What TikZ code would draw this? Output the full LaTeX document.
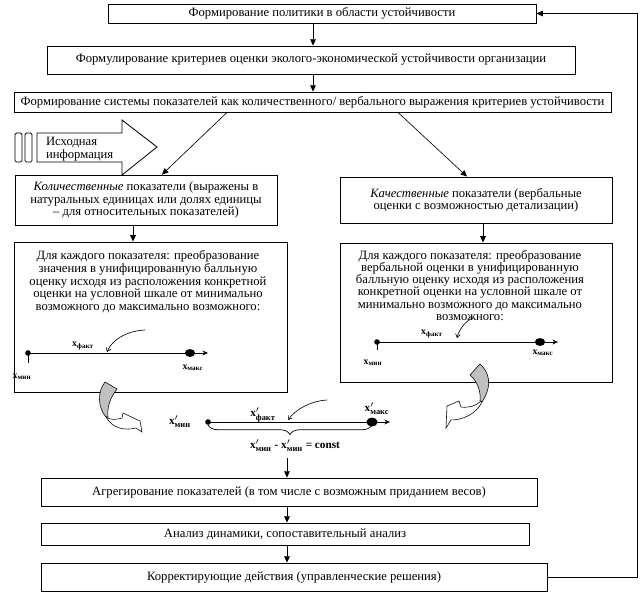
\documentclass[tikz,border=0pt]{standalone}
\usepackage{fontspec}
\setmainfont{Liberation Serif}
\usepackage{amsmath}
\usepackage{tikz}
\usetikzlibrary{arrows.meta, positioning, decorations.pathreplacing}
\definecolor{RibbonGray}{HTML}{C0C0C0}

\begin{document}
\begin{tikzpicture}[x=0.025cm, y=-0.025cm, line width=0.6pt,
    every node/.style={font=\fontsize{9}{9.5}\selectfont},
    box/.style={draw, inner sep=0pt, align=center},
    arr/.style={-{Triangle[length=4.5pt, width=4pt]}},
    scl/.style={-{Stealth[length=4pt, width=3.5pt]}},
    curvearr/.style={-{Straight Barb[length=2.5pt, width=3.5pt]}, line width=0.45pt},
    lbl/.style={font=\fontsize{7}{8}\selectfont\bfseries, inner sep=0pt},
    cnt/.style={font=\fontsize{8}{9}\selectfont\bfseries, inner sep=0pt}]
  \useasboundingbox (0,0) rectangle (640,594);

  % Top chain
  \node[box, minimum width=10.7cm, minimum height=0.475cm] (pol) at (322,13.5)
    {Формирование политики в области устойчивости};
  \node[box, minimum width=13.2cm, minimum height=0.7cm] (crit) at (311,60)
    {Формулирование критериев оценки эколого-экономической устойчивости организации};
  \node[box, minimum width=14.925cm, minimum height=0.5cm] (sys) at (312.5,102)
    {Формирование системы показателей как количественного/ вербального выражения критериев устойчивости};

  % Arrow columns
  \coordinate (tx) at (313,0);
  \coordinate (lx) at (133,0);
  \coordinate (rx) at (483,0);
  \coordinate (bx) at (287,0);
  \draw[arr] (pol.south -| tx) -- (crit.north -| tx);
  \draw[arr] (crit.south -| tx) -- (sys.north -| tx);

  % Input arrow
  \draw[rounded corners=1pt] (15,133) rectangle (22,162);
  \draw[rounded corners=1pt] (25,133) rectangle (32,162);
  \draw (37,133) -- (122,133) -- (122,120) -- (157,147) -- (122,175)
    -- (122,162) -- (37,162) -- cycle;
  \node[anchor=west, align=left] (inp) at (41,149) {Исходная\\информация};

  % Quantitative / qualitative
  \node[box, minimum width=6.55cm, minimum height=1.25cm,
    font=\fontsize{9}{8.6}\selectfont] (qnt) at (146,200)
    {\textit{Количественные} показатели (выражены в\\натуральных единицах или долях единицы\\– для относительных показателей)};
  \node[box, minimum width=6.8cm, minimum height=1.15cm,
    font=\fontsize{9}{8.6}\selectfont] (qlt) at (476,200)
    {\textit{Качественные} показатели (вербальные\\оценки с возможностью детализации)};
  \coordinate (dl) at (227,0);
  \coordinate (dlq) at (162,0);
  \coordinate (dr) at (398,0);
  \coordinate (drq) at (467,0);
  \draw[arr, line width=0.45pt] (sys.south -| dl) -- (qnt.north -| dlq);
  \draw[arr, line width=0.45pt] (sys.south -| dr) -- (qlt.north -| drq);

  % Conversion boxes
  \node[box, minimum width=6.825cm, minimum height=3.75cm] (cvq) at (150.5,317) {};
  \node[anchor=north, align=center, font=\fontsize{9}{9.2}\selectfont] (cvqtxt) at (148,245)
    {Для каждого показателя: преобразование\\значения в унифицированную балльную\\оценку исходя из расположения конкретной\\оценки на условной шкале от минимально\\возможного до максимально возможного:};
  \node[box, minimum width=6.8cm, minimum height=3.475cm] (cvl) at (476,312.5) {};
  \node[anchor=north, align=center, font=\fontsize{9}{8.7}\selectfont] (cvltxt) at (470,245)
    {Для каждого показателя: преобразование\\вербальной оценки в унифицированную\\балльную оценку исходя из расположения\\конкретной оценки на условной шкале от\\минимально возможного до максимально\\возможного:};
  \draw[arr] (qnt.south -| lx) -- (cvq.north -| lx);
  \draw[arr] (qlt.south -| rx) -- (cvl.north -| rx);

  % Left scale
  \coordinate (mn1) at (28,353);
  \coordinate (mx1) at (190,353);
  \coordinate (en1) at (208,353);
  \draw[scl] (mn1) -- (en1);
  \draw (mn1) -- ++(0,10);
  \fill (mn1) circle (2pt);
  \fill (mx1) ellipse (3.6pt and 2.8pt);
  \node[lbl] (xf1) at (83,346) {x\textsubscript{факт}};
  \node[lbl] (xmin1) at (22,377) {x\textsubscript{мин}};
  \node[lbl] (xmax1) at (193,368) {x\textsubscript{макс}};
  \draw[curvearr] (145,330) .. controls (126,331) and (112,340) .. (107,352);

  % Right scale
  \coordinate (mn2) at (377,342);
  \coordinate (mx2) at (540,342);
  \coordinate (en2) at (558,342);
  \draw[scl] (mn2) -- (en2);
  \draw (mn2) -- ++(0,8);
  \fill (mn2) circle (2pt);
  \fill (mx2) ellipse (3.6pt and 2.8pt);
  \node[lbl] (xf2) at (432,334) {x\textsubscript{факт}};
  \node[lbl] (xmin2) at (373,363) {x\textsubscript{мин}};
  \node[lbl] (xmax2) at (543,353) {x\textsubscript{макс}};
  \draw[curvearr] (473,318) .. controls (465,321) and (459,330) .. (457,338);

  % Ribbon arrows
  \filldraw[fill=RibbonGray, line width=0.4pt] (105,382) -- (117,389)
    .. controls (110,398) and (107,407) .. (108,417) -- (106,417)
    .. controls (98,408) and (97,392) .. (105,382) -- cycle;
  \filldraw[fill=white, line width=0.4pt] (106,417)
    .. controls (110,420) and (116,420) .. (122,418) -- (123,413) -- (140,421)
    -- (142,432) -- (136,428) .. controls (124,431) and (112,428) .. (106,417) -- cycle;
  \filldraw[fill=RibbonGray, line width=0.4pt] (470,375) -- (480,364)
    .. controls (489,372) and (493,385) .. (482,402) -- (480,401)
    .. controls (481,392) and (478,382) .. (470,375) -- cycle;
  \filldraw[fill=white, line width=0.4pt] (481,401)
    .. controls (476,406) and (469,408) .. (461,407) -- (459,401) -- (447,406)
    -- (446,428) -- (451,420) .. controls (463,420) and (476,414) .. (482,402) -- cycle;

  % Unified scale
  \coordinate (mn0) at (208,422);
  \coordinate (mx0) at (372,422);
  \coordinate (en0) at (390,422);
  \draw[scl] (mn0) -- (en0);
  \fill (mn0) circle (2pt);
  \fill (mx0) ellipse (4pt and 3.2pt);
  \node[cnt] (xmin0) at (180,422) {x$'_{\text{мин}}$};
  \node[cnt] (xf0) at (263,415) {x$'_{\text{факт}}$};
  \node[cnt] (xmax0) at (377,409) {x$'_{\text{макс}}$};
  \draw[curvearr] (327,400) .. controls (310,401) and (295,410) .. (288,420);
  \draw[decorate, decoration={brace, mirror, amplitude=7pt, raise=2pt},
    line width=0.5pt] (mn0) -- (mx0);
  \node[cnt] (frm) at (295,446) {x$'_{\text{мин}}$ - x$'_{\text{мин}}$ = const};

  % Bottom chain
  \node[box, minimum width=12.4cm, minimum height=0.7cm] (agg) at (289,492)
    {Агрегирование показателей (в том числе с возможным приданием весов)};
  \node[box, minimum width=12.2cm, minimum height=0.55cm] (dyn) at (285,534)
    {Анализ динамики, сопоставительный анализ};
  \node[box, minimum width=12.65cm, minimum height=0.7cm] (adj) at (294,577)
    {Корректирующие действия (управленческие решения)};
  \draw[arr] (frm.south -| bx) ++(0,6) -- (agg.north -| bx);
  \draw[arr] (agg.south -| bx) -- (dyn.north -| bx);
  \draw[arr] (dyn.south -| bx) -- (adj.north -| bx);

  % Feedback loop
  \coordinate (fb) at (637,0);
  \draw[arr] (adj.east) -| (fb |- pol.east) -- (pol.east);
\end{tikzpicture}
\end{document}
